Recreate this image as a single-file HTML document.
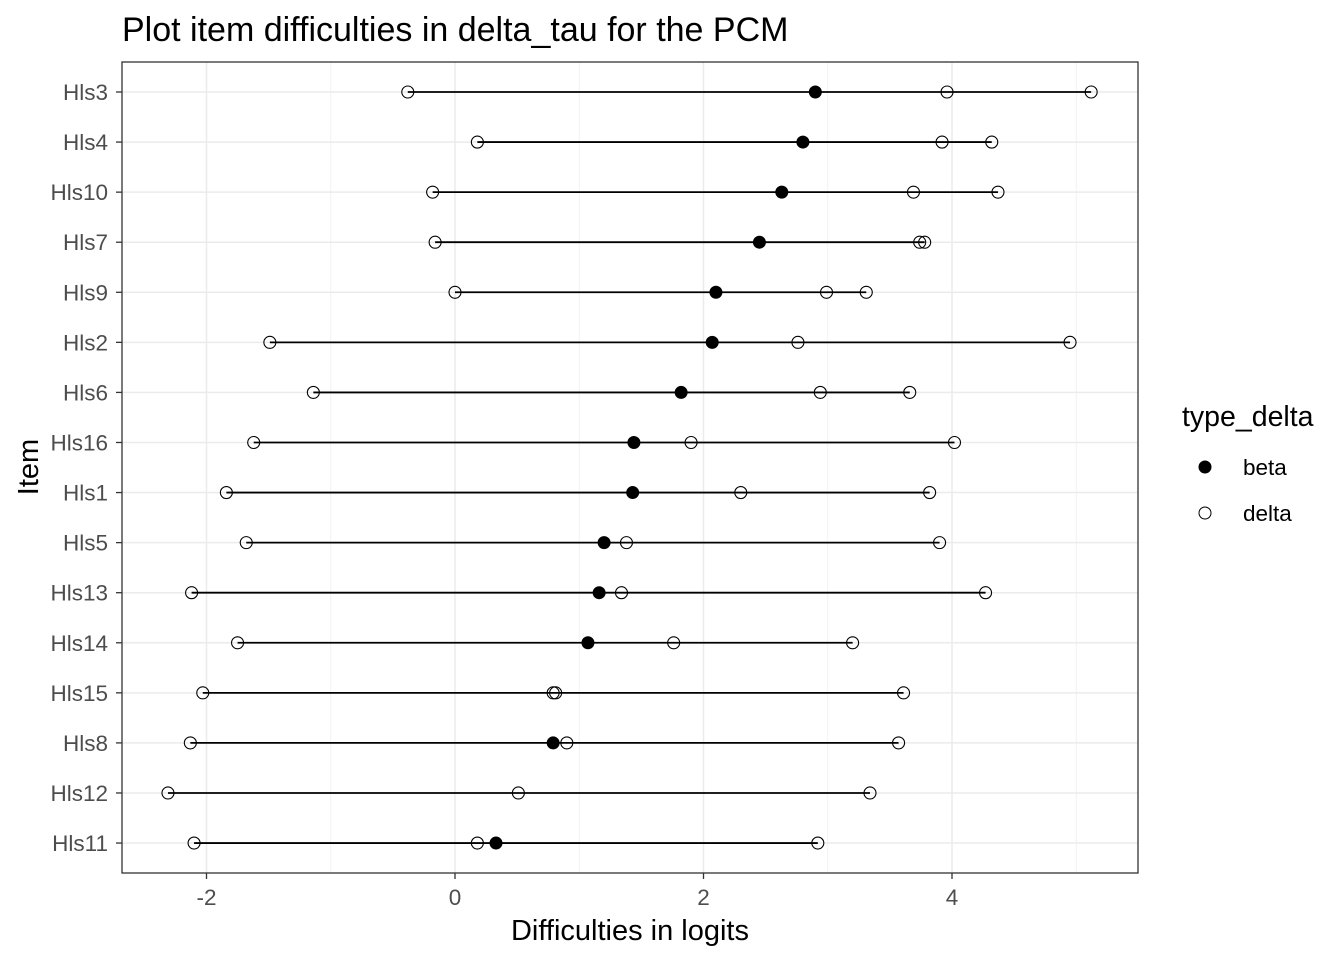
<!DOCTYPE html>
<html><head><meta charset="utf-8"><style>
body{margin:0;background:#fff;}
svg text{font-family:"Liberation Sans",Arial,sans-serif;}
</style></head><body>
<svg id="chart" width="1344" height="960" viewBox="0 0 1344 960">
<rect width="1344" height="960" fill="#fff"/>
<text x="122" y="41" font-size="34" fill="#000">Plot item difficulties in delta_tau for the PCM</text>
<g id="grid"></g>
<g id="marks"></g>
<rect x="122" y="62" width="1016" height="811" fill="none" stroke="#333" stroke-width="1.3"/>
<g id="axes"></g>
<text x="630" y="940" font-size="29" text-anchor="middle" fill="#000">Difficulties in logits</text>
<text transform="translate(38,467) rotate(-90)" font-size="29" text-anchor="middle" fill="#000">Item</text>
<g>
<text x="1182" y="426" font-size="28.5" fill="#000">type_delta</text>
<circle cx="1205" cy="467" r="6" fill="#000" stroke="#000"/>
<text x="1243" y="475" font-size="22.5" fill="#000">beta</text>
<circle cx="1205" cy="513" r="6" fill="#fff" stroke="#000"/>
<text x="1243" y="521" font-size="22.5" fill="#000">delta</text>
</g>
</svg>
<script>
const items=["Hls3","Hls4","Hls10","Hls7","Hls9","Hls2","Hls6","Hls16","Hls1","Hls5","Hls13","Hls14","Hls15","Hls8","Hls12","Hls11"];
const betaValues=[2.90,2.80,2.63,2.45,2.10,2.07,1.82,1.44,1.43,1.20,1.16,1.07,null,0.79,null,0.33];
const delta1=[-0.38,0.18,-0.18,-0.16,0.0,-1.49,-1.14,-1.62,-1.84,-1.68,-2.12,-1.75,-2.03,-2.13,-2.31,-2.10];
const delta2=[3.96,3.92,3.69,3.74,2.99,2.76,2.94,1.90,2.30,1.38,1.34,1.76,0.79,0.90,0.51,0.18];
const delta3=[5.12,4.32,4.37,3.78,3.31,4.95,3.66,4.02,3.82,3.90,4.27,3.20,3.61,3.57,3.34,2.92];
const extraDelta=[null,null,null,null,null,null,null,null,null,null,null,null,0.81,null,null,null];
const xTicks=[-2,0,2,4];
const xTickLabels=["-2","0","2","4"];
const xMinor=[-3,-1,1,3,5];

const NS="http://www.w3.org/2000/svg";
const x=v=>455+(v)*124.25;
const y=i=>92+i*50.07;
function mk(tag,attrs,parent){const e=document.createElementNS(NS,tag);for(const k in attrs)e.setAttribute(k,attrs[k]);parent.appendChild(e);return e;}
const grid=document.getElementById('grid'),marks=document.getElementById('marks'),axes=document.getElementById('axes');
mk('rect',{x:122,y:62,width:1016,height:811,fill:'#fff'},grid);
xMinor.forEach(v=>{const px=x(v);if(px>122&&px<1138){const l=mk('line',{x1:px,x2:px,y1:62,y2:873,stroke:'#f2f2f2','stroke-width':1},grid);

}});
xTicks.forEach((v,k)=>{const px=x(v);const l=mk('line',{x1:px,x2:px,y1:62,y2:873,stroke:'#ebebeb','stroke-width':1.5},grid);


const t=mk('line',{x1:px,x2:px,y1:873,y2:879,stroke:'#333','stroke-width':1.3},axes);


const tx=mk('text',{x:px,y:905,'font-size':22.5,'text-anchor':'middle',fill:'#4d4d4d'},axes);tx.textContent=xTickLabels[k];

});
items.forEach((name,i)=>{const py=y(i);
const g=mk('line',{x1:122,x2:1138,y1:py,y2:py,stroke:'#ebebeb','stroke-width':1.5},grid);


const t=mk('line',{x1:116,x2:122,y1:py,y2:py,stroke:'#333','stroke-width':1.3},axes);


const tx=mk('text',{x:108,y:py+8,'font-size':22.5,'text-anchor':'end',fill:'#4d4d4d'},axes);tx.textContent=name;


const vals=[delta1[i],delta2[i],delta3[i]];if(betaValues[i]!==null)vals.push(betaValues[i]);
const lo=Math.min(...vals),hi=Math.max(...vals);
const ln=mk('line',{x1:x(lo),x2:x(hi),y1:py,y2:py,stroke:'#000','stroke-width':1.8},marks);


if(betaValues[i]!==null){const c=mk('circle',{cx:x(betaValues[i]),cy:py,r:6,fill:'#000',stroke:'#000'},marks);

}
const ds=[delta1[i],delta2[i],delta3[i]];if(extraDelta[i]!==null)ds.push(extraDelta[i]);
ds.forEach(v=>{const c=mk('circle',{cx:x(v),cy:py,r:6,fill:'none',stroke:'#000','stroke-width':1.1},marks);

});
});
</script>
</body></html>
